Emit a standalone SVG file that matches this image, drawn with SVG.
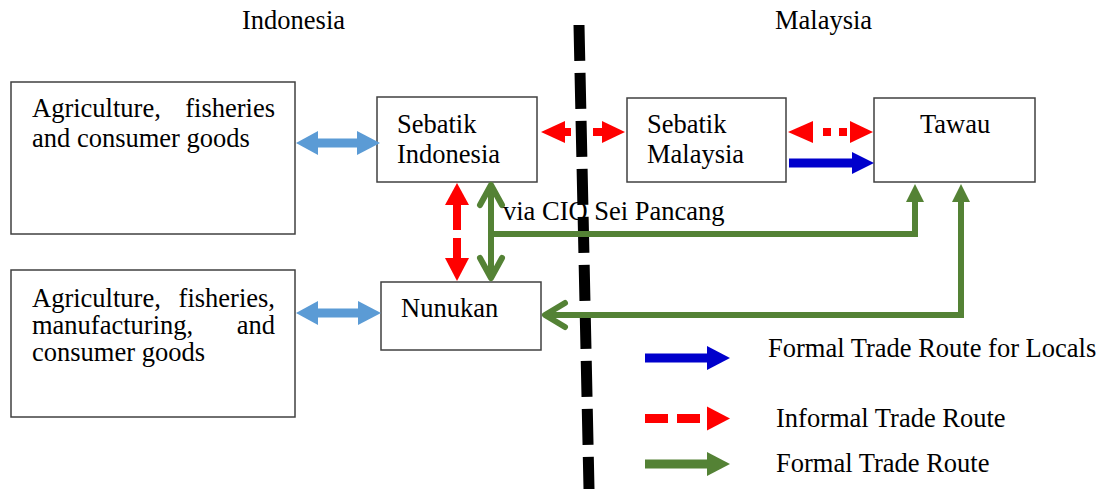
<svg xmlns="http://www.w3.org/2000/svg" width="1104" height="489" viewBox="0 0 1104 489">
<style>
  .box{fill:#fff;stroke:#404040;stroke-width:1.5}
  .t{font-family:'Times New Roman','Liberation Serif',Tinos,'DejaVu Serif',serif;font-size:26.5px;fill:#000}
  .lb{fill:#5B9BD5}
  .db{fill:#0000CC}
  .rd{fill:#FF0000}
  .gr{fill:#548235}
  .gl{fill:none;stroke:#548235;stroke-width:6}
  .gc{fill:none;stroke:#548235;stroke-width:6;stroke-linecap:round;stroke-linejoin:round}
  .border{stroke:#000;stroke-width:11;stroke-dasharray:36 12;fill:none}
</style>
<rect width="1104" height="489" fill="#fff"/>

<text class="t" x="242" y="29">Indonesia</text>
<text class="t" x="775" y="29">Malaysia</text>

<g id="border-line">
  <line class="border" x1="579" y1="25" x2="589" y2="489"/>
</g>

<g id="node-agri1">
  <rect class="box" x="11" y="82" width="284" height="152"/>
  <text class="t" x="32" y="117">Agriculture,</text>
  <text class="t" x="275" y="117" text-anchor="end">fisheries</text>
  <text class="t" x="32" y="147">and consumer goods</text>
</g>
<g id="node-agri2">
  <rect class="box" x="11" y="270" width="284" height="147"/>
  <text class="t" x="32" y="307">Agriculture,</text>
  <text class="t" x="275" y="307" text-anchor="end">fisheries,</text>
  <text class="t" x="32" y="334">manufacturing,</text>
  <text class="t" x="275" y="334" text-anchor="end">and</text>
  <text class="t" x="32" y="361">consumer goods</text>
</g>
<g id="node-sebatik-indonesia">
  <rect class="box" x="377" y="97" width="160" height="85"/>
  <text class="t" x="397" y="133">Sebatik</text>
  <text class="t" x="397" y="163">Indonesia</text>
</g>
<g id="node-sebatik-malaysia">
  <rect class="box" x="627" y="98" width="159" height="84"/>
  <text class="t" x="647" y="133">Sebatik</text>
  <text class="t" x="647" y="163">Malaysia</text>
</g>
<g id="node-tawau">
  <rect class="box" x="874" y="98" width="161" height="84"/>
  <text class="t" x="920" y="133">Tawau</text>
</g>
<g id="node-nunukan">
  <rect class="box" x="381" y="282" width="160" height="68"/>
  <text class="t" x="401" y="317">Nunukan</text>
</g>

<g id="connectors">
  <rect class="lb" x="317" y="138.5" width="41" height="9"/>
  <polygon class="lb" points="296,143 318,131 318,155"/>
  <polygon class="lb" points="380,143 357,131 357,155"/>
  <rect class="lb" x="317" y="308.5" width="42" height="9"/>
  <polygon class="lb" points="296,313 318,301 318,325"/>
  <polygon class="lb" points="381,313 358,301 358,325"/>

  <polygon class="rd" points="541,132 565,121 565,143"/>
  <rect class="rd" x="564" y="128" width="7" height="8"/>
  <rect class="rd" x="593" y="128" width="10" height="8"/>
  <polygon class="rd" points="625,132 602,121 602,143"/>

  <polygon class="rd" points="788,132 813,121 813,143"/>
  <rect class="rd" x="823" y="128" width="8" height="8"/>
  <rect class="rd" x="839" y="128" width="8" height="8"/>
  <polygon class="rd" points="873,132 850,121 850,143"/>

  <rect class="db" x="789" y="158.5" width="64" height="9"/>
  <polygon class="db" points="874,163 852,152 852,174"/>

  <polygon class="rd" points="457,183 445,205 469,205"/>
  <rect class="rd" x="453" y="204" width="8" height="26"/>
  <rect class="rd" x="453" y="238" width="8" height="21"/>
  <polygon class="rd" points="457,281 445,258 469,258"/>

  <line class="gl" x1="491" y1="186" x2="491" y2="278"/>
  <polyline class="gc" points="480,205 491,185 502,205"/>
  <polyline class="gc" points="480,258 491,278 502,258"/>

  <polyline class="gl" points="491,234 915,234 915,200"/>
  <polygon class="gr" points="915,184 906,202 924,202"/>

  <polyline class="gl" points="546,315 961,315 961,200"/>
  <polygon class="gr" points="961,184 952,202 970,202"/>
  <polyline class="gc" points="565,303 545,315 565,327"/>

  <text class="t" x="503" y="220">via CIO Sei Pancang</text>
</g>

<g id="legend">
  <rect class="db" x="645" y="353.5" width="63" height="9"/>
  <polygon class="db" points="730,358 707,346 707,370"/>
  <text class="t" x="768" y="357">Formal Trade Route for Locals</text>

  <rect class="rd" x="645" y="414" width="23" height="9"/>
  <rect class="rd" x="677" y="414" width="23" height="9"/>
  <polygon class="rd" points="730,418.5 707,406.5 707,430.5"/>
  <text class="t" x="776" y="427">Informal Trade Route</text>

  <rect class="gr" x="645" y="459.5" width="63" height="9"/>
  <polygon class="gr" points="730,464 707,452 707,476"/>
  <text class="t" x="776" y="472">Formal Trade Route</text>
</g>
</svg>
